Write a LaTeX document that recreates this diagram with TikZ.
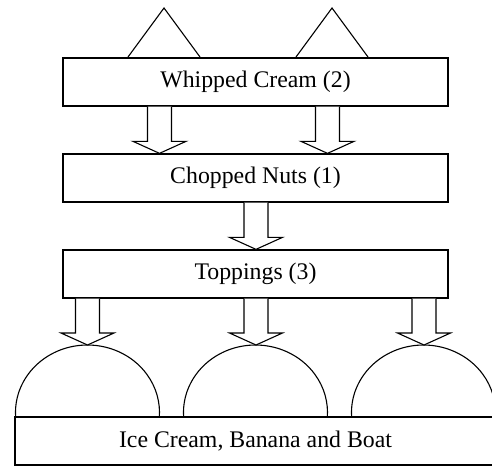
\documentclass[tikz,border=0pt]{standalone}
\usepackage{fontspec}
\setmainfont{Liberation Serif}
\usetikzlibrary{calc}
\tikzset{
  box/.style={draw, line width=1.3pt, fill=white, minimum width=385pt, minimum height=48pt, inner sep=0pt,
    font=\fontsize{23.8}{28}\selectfont},
  hollow/.style={draw, line width=1.1pt, line join=miter, fill=white},
  dome/.style={draw, line width=1.1pt, fill=white},
  peak/.style={draw, line width=1.1pt, line join=miter},
}
\newcommand\hollowarrow[2]{%
  \path[hollow] ($(#1)+(-12,0)$) -- ($(#2)+(-12,-12)$) -- ($(#2)+(-26.5,-12)$) -- (#2)
    -- ($(#2)+(26.5,-12)$) -- ($(#2)+(12,-12)$) -- ($(#1)+(12,0)$);}
\begin{document}
\begin{tikzpicture}[x=1pt,y=-1pt]
\clip (0,0) rectangle (492,466);
\fill[white] (0,0) rectangle (492,466);
% triangles on top
\path[peak] (128,57) -- (164,8) -- (200,57);
\path[peak] (296,57) -- (332,8) -- (368,57);
% boxes
\node[box] (wc) at (255.5,82) {Whipped Cream (2)};
\node[box] (cn) at (255.5,178) {Chopped Nuts (1)};
\node[box] (tp) at (255.5,274) {Toppings (3)};
% domes
\coordinate (d1) at (87.5,345);
\coordinate (d2) at (255.5,345);
\coordinate (d3) at (423.5,345);
\foreach \c in {87.5,255.5,423.5}{
  \path[dome] ($(\c,412.5)+(184.5:72pt and 67.5pt)$) arc[start angle=184.5, end angle=-4.5, x radius=72pt, y radius=67.5pt];
}
\node[box, minimum width=481pt] (base) at (255.5,441) {Ice Cream, Banana and Boat};
% arrows
\coordinate (a1) at ([xshift=-96pt]wc.south);
\coordinate (b1) at ([xshift=-96pt]cn.north);
\coordinate (a2) at ([xshift=72pt]wc.south);
\coordinate (b2) at ([xshift=72pt]cn.north);
\hollowarrow{a1}{b1}
\hollowarrow{a2}{b2}
\coordinate (a3) at ([xshift=0.5pt]cn.south);
\coordinate (b3) at ([xshift=0.5pt]tp.north);
\hollowarrow{a3}{b3}
\coordinate (a4) at ([xshift=-168pt]tp.south);
\coordinate (a5) at ([xshift=0.5pt]tp.south);
\coordinate (a6) at ([xshift=168.5pt]tp.south);
\coordinate (t1) at (87.5,345);
\coordinate (t2) at (256,345);
\coordinate (t3) at (424,345);
\hollowarrow{a4}{t1}
\hollowarrow{a5}{t2}
\hollowarrow{a6}{t3}
\end{tikzpicture}
\end{document}
